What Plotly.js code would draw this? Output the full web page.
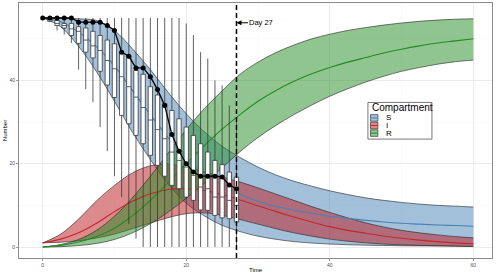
<!DOCTYPE html>
<html><head><meta charset="utf-8">
<script src="https://cdn.plot.ly/plotly-3.0.1.min.js"></script>
<style>html,body{margin:0;padding:0;background:#fff}#chart{width:498px;height:273px}</style>
</head><body><div id="chart"></div>
<script>
// ---- model ribbons (time grid) ----
const ribbonTime = [0,2.5,5,7.5,10,12.5,15,17.5,20,22.5,25,27.5,30,32.5,35,37.5,40,42.5,45,47.5,50,52.5,55,57.5,60];
const sLower = [55,52.9,48.2,42.1,35,27.6,21,15.1,10.5,7.5,5.2,3.7,2.6,1.85,1.3,0.95,0.7,0.55,0.45,0.37,0.3,0.27,0.25,0.22,0.2];
const sMean  = [55,54.1,51.6,48.1,43.5,37.6,31.8,26.2,21.4,17.6,14.8,12.7,11.0,9.8,8.9,8.1,7.4,6.9,6.4,6.0,5.7,5.5,5.3,5.15,5.0];
const sUpper = [55,55,54.8,54.4,52,47.6,42.6,37.1,32,27.7,24.2,21.5,19.2,17.3,15.8,14.6,13.5,12.6,11.8,11.2,10.7,10.3,10.0,9.8,9.6];
const iLower = [1,1.15,1.5,2.15,3.1,4.4,5.75,7.05,8.0,8.2,7.6,6.6,5.5,4.4,3.4,2.6,1.9,1.4,1.0,0.7,0.5,0.4,0.3,0.2,0.1];
const iMean  = [1,1.9,3.4,5.7,8.5,11.0,12.8,13.8,14.0,13.6,12.6,11.3,9.9,8.5,7.2,6.0,4.9,4.0,3.3,2.65,2.1,1.65,1.3,1.0,0.8];
const iUpper = [1,3.1,6.7,11.1,14.8,17.8,19.5,19.9,19.2,18.1,16.8,15.6,14.2,12.7,11.2,9.7,8.3,7.0,5.8,4.8,4.0,3.4,2.9,2.5,2.2];
const rLower = [0,0.08,0.35,0.85,1.8,3.4,5.6,8.4,11.7,15.3,19.0,22.9,26.3,29.2,31.8,34.1,36.2,38.0,39.6,41.0,42.2,43.1,43.9,44.5,44.9];
const rMean  = [0,0.4,1.2,2.5,4.5,7.5,11.2,15.5,20.0,24.3,28.3,31.8,35.0,37.6,39.8,41.6,43.1,44.4,45.5,46.6,47.5,48.3,49.0,49.5,50.0];
const rUpper = [0,0.6,1.8,4.0,7.4,11.8,17.0,22.6,28.2,33.2,37.5,41.5,44.4,46.7,48.5,50.0,51.1,52.0,52.7,53.3,53.8,54.2,54.5,54.7,54.8];

// ---- simulated boxplots per day ----
const boxDays = [1,2,3,4,5,6,7,8,9,10,11,12,13,14,15,16,17,18,19,20,21,22,23,24,25,26,27];
const boxLow  = [54,52,51,49,42.6,37.9,34.8,28.8,23,17,12,5.5,2,0,0,0,0,0,0,0,0,0,0,0,0,0,0];
const boxQ1   = [54.2,53.2,52.6,50.8,48.9,46.8,45.4,42.2,38.9,35.9,31.6,29.6,26.8,24.8,22.0,19.6,17.0,14.8,14.0,12.0,11.2,8.9,8.8,7.6,7.0,6.8,6.0];
const boxMed  = [54.6,53.7,53.2,52.4,51.8,49.7,48.3,47.2,44.8,42.8,40.9,38.5,36.0,33.5,30.5,28.2,26.0,22.8,20.8,19.2,17.2,14.4,14.0,12.0,12.0,11.2,10.0];
const boxQ3   = [54.8,54.4,53.7,53.7,52.9,52.6,51.8,50.8,49.7,48.8,46.5,46.0,42.4,41.5,38.5,36.5,34.5,32.8,30.8,28.8,26.8,24.8,22.8,20.8,19.8,18.0,16.8];
const boxHigh = [55,55,55,55,55,55,55,55,55,55,55,55,55,55,55,55,55,55,55,53.7,50.9,46.8,45.3,40.0,38.8,34.0,30.0];

// ---- observed series ----
const obsDays = [0,1,2,3,4,5,6,7,8,9,10,11,12,13,14,15,16,17,18,19,20,21,22,23,24,25,26,27];
const obsValues = [55,55,55,55,55,54,54,54,54,53.2,52,46.8,45.8,43,43,40.9,37.8,34,27,23,20,18,17,17,17,16.8,14.9,14];

const compartments = ["S","I","R"];
const markDay = 27;
const markLabel = "Day 27";

const fills = {S:"rgba(70,130,180,0.5)", I:"rgba(190,30,35,0.52)", R:"rgba(34,139,34,0.5)"};
const lineCols = {S:"#4682b4", I:"#c0282d", R:"#228b22"};
const ribbons = {S:[sLower,sMean,sUpper], I:[iLower,iMean,iUpper], R:[rLower,rMean,rUpper]};

const traces = [];
compartments.forEach(c => {
  const [lo, , hi] = ribbons[c];
  traces.push({x:ribbonTime, y:lo, type:"scatter", mode:"lines", line:{color:"#222", width:0.6, shape:"spline", smoothing:1}, showlegend:false, hoverinfo:"skip"});
  traces.push({x:ribbonTime, y:hi, type:"scatter", mode:"lines", fill:"tonexty", fillcolor:fills[c], line:{color:"#222", width:0.6, shape:"spline", smoothing:1}, showlegend:false, hoverinfo:"skip", name:c});
});
compartments.forEach(c => {
  traces.push({x:ribbonTime, y:ribbons[c][1], type:"scatter", mode:"lines", line:{color:lineCols[c], width:1.1, shape:"spline", smoothing:1}, showlegend:false, hoverinfo:"skip"});
});
traces.push({type:"box", x:boxDays, q1:boxQ1, median:boxMed, q3:boxQ3, lowerfence:boxLow, upperfence:boxHigh,
  xaxis:"x2", yaxis:"y2", fillcolor:"#ffffff", line:{color:"#383838", width:0.8}, whiskerwidth:0, width:0.6,
  boxpoints:false, showlegend:false, hoverinfo:"skip"});
traces.push({x:obsDays, y:obsValues, type:"scatter", mode:"lines+markers", xaxis:"x2", yaxis:"y2",
  line:{color:"#000", width:1.3}, marker:{color:"#000", size:5}, showlegend:false, hoverinfo:"skip"});

const xr = [-3.3, 62.6], yr = [-2.64, 58.6];
const axBase = {showgrid:true, gridcolor:"#ebebeb", gridwidth:1, zeroline:false,
  showline:true, mirror:true, linecolor:"#8a8a8a", linewidth:1,
  ticks:"outside", ticklen:2, tickwidth:0.6, tickcolor:"#555",
  tickfont:{family:"Liberation Sans, Arial", size:5, color:"#4d4d4d"},
  minor:{dtick:10, showgrid:true, gridcolor:"#f5f5f5", gridwidth:0.5, ticks:""}};

const shapes = [{type:"line", xref:"x", yref:"paper", x0:markDay, x1:markDay, y0:0, y1:1,
  line:{color:"#000", width:1.5, dash:"5px,3px"}, layer:"above"}];
const annotations = [{x:markDay, y:53.85, xref:"x", yref:"y", text:markLabel, showarrow:true, ax:25, ay:0,
  arrowhead:2, arrowsize:1, arrowwidth:1, arrowcolor:"#000", standoff:0,
  font:{family:"Liberation Sans, Arial", size:7.5, color:"#000"}}];
// manual legend (paper coords)
const px2x = p => (p - 19) / 472.7, py2y = p => (257.7 - p) / 255.2;
shapes.push({type:"rect", xref:"paper", yref:"paper", x0:px2x(367.7), x1:px2x(431.7), y0:py2y(138.7), y1:py2y(102),
  line:{color:"#555", width:0.8}, fillcolor:"#fff", layer:"above"});
annotations.push({xref:"paper", yref:"paper", x:px2x(369.3), y:py2y(107.3), xanchor:"left", yanchor:"middle", showarrow:false,
  text:"Compartment", font:{family:"Liberation Sans, Arial", size:10, color:"#000"}});
compartments.forEach((c, k) => {
  const cy = 117.5 + k * 7.6;
  shapes.push({type:"rect", xref:"paper", yref:"paper", x0:px2x(370.3), x1:px2x(377.7), y0:py2y(cy+3.3), y1:py2y(cy-3.3),
    line:{color:"#222", width:0.6}, fillcolor:fills[c], layer:"above"});
  shapes.push({type:"line", xref:"paper", yref:"paper", x0:px2x(370.3), x1:px2x(377.7), y0:py2y(cy), y1:py2y(cy),
    line:{color:lineCols[c], width:1}, layer:"above"});
  annotations.push({xref:"paper", yref:"paper", x:px2x(383.5), y:py2y(cy), xanchor:"left", yanchor:"middle", showarrow:false,
    text:c, font:{family:"Liberation Sans, Arial", size:8, color:"#000"}});
});

const layout = {
  width:498, height:273, margin:{l:19, r:6, t:3, b:15}, paper_bgcolor:"#fff", plot_bgcolor:"#fff",
  showlegend:false,
  xaxis:Object.assign({}, axBase, {range:xr, dtick:20, tick0:0,
    title:{text:"Time", font:{family:"Liberation Sans, Arial", size:6, color:"#000"}, standoff:0}}),
  yaxis:Object.assign({}, axBase, {range:yr, dtick:20, tick0:0,
    title:{text:"Number", font:{family:"Liberation Sans, Arial", size:6, color:"#000"}, standoff:1}}),
  xaxis2:{overlaying:"x", anchor:"y2", range:xr, visible:false},
  yaxis2:{overlaying:"y", anchor:"x2", range:yr, visible:false},
  shapes:shapes, annotations:annotations
};
Plotly.newPlot("chart", traces, layout, {staticPlot:true, displayModeBar:false});
</script></body></html>
